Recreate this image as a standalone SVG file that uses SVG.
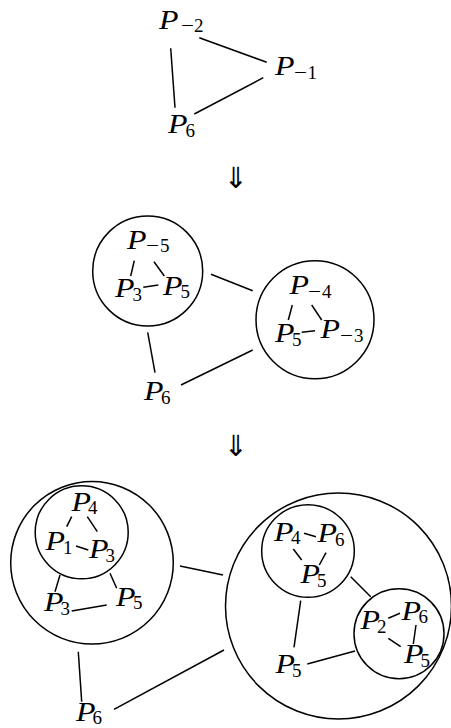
<svg xmlns="http://www.w3.org/2000/svg" width="451" height="728" viewBox="0 0 451 728">
<style>
.p{font-family:"Liberation Serif",serif;font-style:italic;font-size:28px;fill:#000}
.s{font-family:"Liberation Serif",serif;font-size:19px;fill:#000}
.m{font-family:"Liberation Serif",serif;font-size:19px;fill:#000}
.a{font-family:"DejaVu Sans",sans-serif;font-size:29px;fill:#000;text-anchor:middle}
line{stroke:#000;stroke-width:1.5;stroke-linecap:butt}
circle{fill:none;stroke:#000;stroke-width:1.5}
</style>
<rect width="451" height="728" fill="#fff"/>
<g id="connectors">
<line x1="199.3" y1="37.7" x2="266.7" y2="62.3"/>
<line x1="170.7" y1="48.3" x2="175" y2="107.7"/>
<line x1="194.3" y1="114" x2="263.3" y2="77.7"/>
<line x1="134.3" y1="260.7" x2="130.7" y2="276"/>
<line x1="154" y1="261.7" x2="164.3" y2="276"/>
<line x1="143.3" y1="287.3" x2="158.3" y2="285"/>
<line x1="292.3" y1="305" x2="288.3" y2="320"/>
<line x1="311.7" y1="305" x2="321.7" y2="320"/>
<line x1="301.7" y1="332.3" x2="315" y2="330.7"/>
<line x1="211" y1="274.3" x2="252.7" y2="290.7"/>
<line x1="147.7" y1="332.3" x2="155" y2="372.7"/>
<line x1="181" y1="385" x2="252.7" y2="350"/>
<line x1="71.7" y1="516.7" x2="66.7" y2="526.7"/>
<line x1="87.3" y1="516.7" x2="97.3" y2="531.7"/>
<line x1="76" y1="546" x2="88.3" y2="550"/>
<line x1="60" y1="575" x2="55" y2="591.7"/>
<line x1="110" y1="573.3" x2="116.7" y2="588.3"/>
<line x1="71.7" y1="611" x2="106.7" y2="605"/>
<line x1="78.3" y1="651.7" x2="81.7" y2="701.7"/>
<line x1="180" y1="566" x2="223" y2="575"/>
<line x1="114" y1="709.3" x2="224" y2="650"/>
<line x1="304" y1="533.3" x2="316" y2="536.7"/>
<line x1="293.3" y1="549" x2="301.7" y2="560"/>
<line x1="326" y1="552.7" x2="319.3" y2="565"/>
<line x1="388.3" y1="618.3" x2="400" y2="613.3"/>
<line x1="388.3" y1="638.3" x2="400.7" y2="646.7"/>
<line x1="416" y1="625" x2="413.3" y2="644"/>
<line x1="350.7" y1="576.7" x2="370.7" y2="596.7"/>
<line x1="300.7" y1="600.7" x2="294" y2="647.3"/>
<line x1="307.3" y1="664" x2="355" y2="651"/>
</g>
<g id="top">
<g id="t-pm2"><text class="p" x="159" y="29" textLength="19.5" lengthAdjust="spacingAndGlyphs">P</text><text class="m" x="181" y="32" textLength="13" lengthAdjust="spacingAndGlyphs">−</text><text class="s" x="194" y="32">2</text></g>
<g id="t-pm1"><text class="p" x="275" y="75" textLength="19.5" lengthAdjust="spacingAndGlyphs">P</text><text class="m" x="294" y="79" textLength="13" lengthAdjust="spacingAndGlyphs">−</text><text class="s" x="307.5" y="79">1</text></g>
<g id="t-p6"><text class="p" x="168" y="133" textLength="19.5" lengthAdjust="spacingAndGlyphs">P</text><text class="s" x="185.5" y="137">6</text></g>
</g>
<g id="arrow1"><text class="a" x="236" y="188">⇓</text></g>
<g id="middle">
<g id="m-left"><circle cx="147.7" cy="271" r="55"/>
<text class="p" x="127" y="249" textLength="19.5" lengthAdjust="spacingAndGlyphs">P</text><text class="m" x="146" y="252" textLength="13" lengthAdjust="spacingAndGlyphs">−</text><text class="s" x="160" y="252">5</text>
<text class="p" x="115" y="297" textLength="19.5" lengthAdjust="spacingAndGlyphs">P</text><text class="s" x="132.5" y="301">3</text>
<text class="p" x="163" y="295" textLength="19.5" lengthAdjust="spacingAndGlyphs">P</text><text class="s" x="180.5" y="298">5</text></g>
<g id="m-right"><circle cx="315" cy="319.7" r="59"/>
<text class="p" x="289.5" y="294" textLength="19.5" lengthAdjust="spacingAndGlyphs">P</text><text class="m" x="308" y="298" textLength="13" lengthAdjust="spacingAndGlyphs">−</text><text class="s" x="322" y="298">4</text>
<text class="p" x="275" y="342" textLength="19.5" lengthAdjust="spacingAndGlyphs">P</text><text class="s" x="292" y="346">5</text>
<text class="p" x="320.5" y="338" textLength="19.5" lengthAdjust="spacingAndGlyphs">P</text><text class="m" x="340" y="342" textLength="13" lengthAdjust="spacingAndGlyphs">−</text><text class="s" x="354" y="342">3</text></g>
<g id="m-p6"><text class="p" x="144" y="400" textLength="19.5" lengthAdjust="spacingAndGlyphs">P</text><text class="s" x="161" y="404">6</text></g>
</g>
<g id="arrow2"><text class="a" x="236" y="456">⇓</text></g>
<g id="bottom">
<g id="b-left"><circle cx="92" cy="562.8" r="81.3"/>
<g id="b-left-inner"><circle cx="81.7" cy="532.3" r="46.5"/>
<text class="p" x="71.5" y="511" textLength="19.5" lengthAdjust="spacingAndGlyphs">P</text><text class="s" x="88" y="514">4</text>
<text class="p" x="45.5" y="550" textLength="19.5" lengthAdjust="spacingAndGlyphs">P</text><text class="s" x="63" y="554">1</text>
<text class="p" x="89" y="558" textLength="19.5" lengthAdjust="spacingAndGlyphs">P</text><text class="s" x="105.5" y="562">3</text></g>
<text class="p" x="44" y="611" textLength="19.5" lengthAdjust="spacingAndGlyphs">P</text><text class="s" x="60.5" y="615">3</text>
<text class="p" x="116" y="606" textLength="19.5" lengthAdjust="spacingAndGlyphs">P</text><text class="s" x="133" y="609">5</text></g>
<g id="b-p6"><text class="p" x="76" y="721" textLength="19.5" lengthAdjust="spacingAndGlyphs">P</text><text class="s" x="92.5" y="724">6</text></g>
<g id="b-right"><circle cx="338.5" cy="606" r="113"/>
<g id="b-right-a"><circle cx="308" cy="551" r="46.3"/>
<text class="p" x="274" y="541" textLength="19.5" lengthAdjust="spacingAndGlyphs">P</text><text class="s" x="291" y="544">4</text>
<text class="p" x="317.5" y="542" textLength="19.5" lengthAdjust="spacingAndGlyphs">P</text><text class="s" x="335" y="546">6</text>
<text class="p" x="300.5" y="583" textLength="19.5" lengthAdjust="spacingAndGlyphs">P</text><text class="s" x="317" y="587">5</text></g>
<g id="b-right-b"><circle cx="399" cy="633.7" r="45"/>
<text class="p" x="360.5" y="629" textLength="19.5" lengthAdjust="spacingAndGlyphs">P</text><text class="s" x="377" y="633">2</text>
<text class="p" x="401.5" y="620" textLength="19.5" lengthAdjust="spacingAndGlyphs">P</text><text class="s" x="418.5" y="623">6</text>
<text class="p" x="404" y="663" textLength="19.5" lengthAdjust="spacingAndGlyphs">P</text><text class="s" x="420.5" y="667">5</text></g>
<text class="p" x="275.5" y="673" textLength="19.5" lengthAdjust="spacingAndGlyphs">P</text><text class="s" x="292" y="677">5</text></g>
</g>
</svg>
